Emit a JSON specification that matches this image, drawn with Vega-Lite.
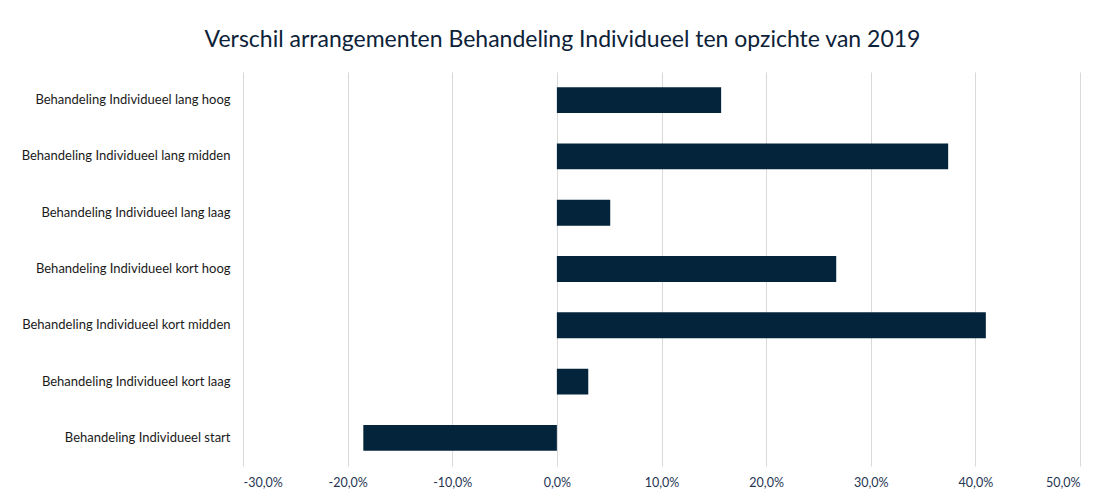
{
  "$schema": "https://vega.github.io/schema/vega-lite/v6.json",
  "width": 837,
  "height": 394,
  "autosize": {"type": "none"},
  "padding": {"left": 243, "top": 72, "right": 27, "bottom": 29},
  "background": "white",
  "title": {
    "text": "Verschil arrangementen Behandeling Individueel ten opzichte van 2019",
    "font": "Lato",
    "fontSize": 23,
    "fontWeight": "normal",
    "color": "#0d2238",
    "anchor": "middle",
    "dx": -99,
    "offset": 20
  },
  "data": {
    "values": [
      {"categorie": "Behandeling Individueel lang hoog", "verschil": 0.157},
      {"categorie": "Behandeling Individueel lang midden", "verschil": 0.374},
      {"categorie": "Behandeling Individueel lang laag", "verschil": 0.051},
      {"categorie": "Behandeling Individueel kort hoog", "verschil": 0.267},
      {"categorie": "Behandeling Individueel kort midden", "verschil": 0.41},
      {"categorie": "Behandeling Individueel kort laag", "verschil": 0.03},
      {"categorie": "Behandeling Individueel start", "verschil": -0.185}
    ]
  },
  "mark": {"type": "bar", "color": "#03243a"},
  "encoding": {
    "y": {
      "field": "categorie",
      "type": "nominal",
      "sort": null,
      "scale": {"paddingInner": 0.54, "paddingOuter": 0.27},
      "axis": {
        "title": null,
        "domain": false,
        "ticks": false,
        "labelFont": "Lato",
        "labelFontSize": 13,
        "labelColor": "#1a1a1a",
        "labelPadding": 13,
        "labelLimit": 300
      }
    },
    "x": {
      "field": "verschil",
      "type": "quantitative",
      "scale": {"domain": [-0.3, 0.5], "nice": false, "zero": false},
      "axis": {
        "title": null,
        "values": [-0.3, -0.2, -0.1, 0, 0.1, 0.2, 0.3, 0.4, 0.5],
        "labelExpr": "replace(replace(format(datum.value, '.1%'), '.', ','), '\u2212', '-')",
        "domain": false,
        "ticks": false,
        "grid": true,
        "gridColor": "#d9d9d9",
        "labelFont": "Lato",
        "labelFontSize": 12.5,
        "labelColor": "#1f3553",
        "labelPadding": 10
      }
    }
  },
  "config": {"view": {"stroke": null}}
}
